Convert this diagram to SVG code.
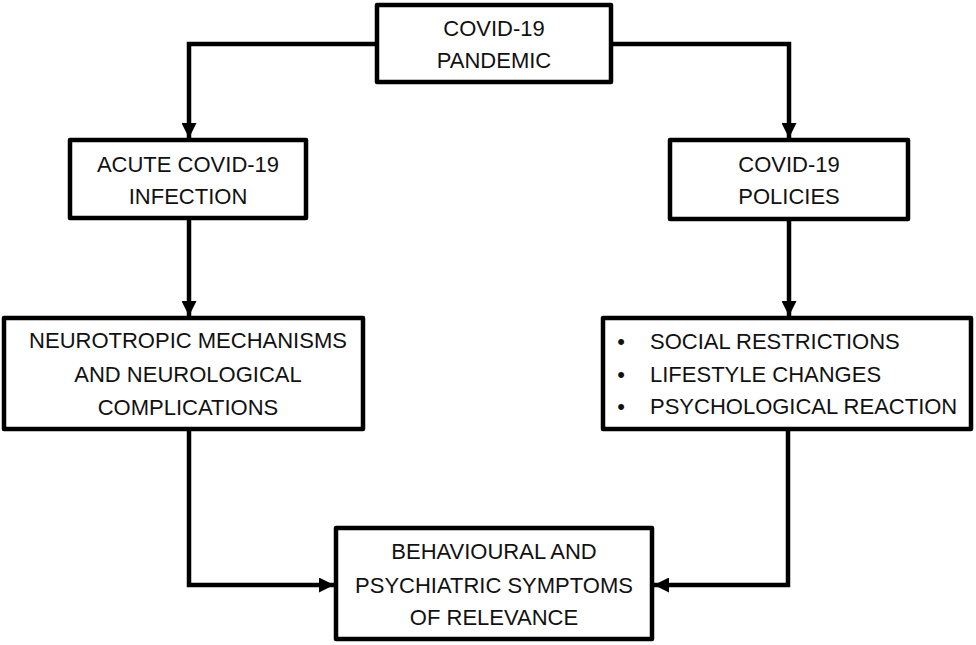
<svg xmlns="http://www.w3.org/2000/svg" width="976" height="645" viewBox="0 0 976 645">
<style>
.box{fill:#fff;stroke:#000;stroke-width:4.5;stroke-linejoin:round}
.lbl{font-family:"Liberation Sans",Arial,sans-serif;font-size:22px;fill:#111;text-anchor:middle}
.lft{text-anchor:start}
.con{fill:none;stroke:#000;stroke-width:4.5;stroke-linejoin:miter}
</style>
<defs>
<marker id="ah" markerUnits="userSpaceOnUse" markerWidth="15" markerHeight="15" viewBox="0 0 15 15" refX="15" refY="7.5" orient="auto">
<path d="M0,0 L15,7.5 L0,15 Z" fill="#000"/>
</marker>
</defs>
<g id="connectors">
<path class="con" d="M377,44 H189 V138" marker-end="url(#ah)"/>
<path class="con" d="M611,44 H789 V138" marker-end="url(#ah)"/>
<path class="con" d="M189,218 V316" marker-end="url(#ah)"/>
<path class="con" d="M789,219 V316" marker-end="url(#ah)"/>
<path class="con" d="M189,429 V585 H334" marker-end="url(#ah)"/>
<path class="con" d="M788,429 V585 H654" marker-end="url(#ah)"/>
</g>
<g id="pandemic">
<rect class="box" x="377" y="5" width="234" height="77"/>
<text class="lbl" x="494" y="36">COVID-19</text>
<text class="lbl" x="494" y="68">PANDEMIC</text>
</g>
<g id="infection">
<rect class="box" x="70" y="140" width="236" height="78"/>
<text class="lbl" x="188" y="172">ACUTE COVID-19</text>
<text class="lbl" x="188" y="204">INFECTION</text>
</g>
<g id="policies">
<rect class="box" x="670" y="140" width="238" height="79"/>
<text class="lbl" x="789" y="172">COVID-19</text>
<text class="lbl" x="789" y="204">POLICIES</text>
</g>
<g id="neurotropic">
<rect class="box" x="4" y="318" width="359" height="111"/>
<text class="lbl" x="188" y="348">NEUROTROPIC MECHANISMS</text>
<text class="lbl" x="188" y="382">AND NEUROLOGICAL</text>
<text class="lbl" x="188" y="415">COMPLICATIONS</text>
</g>
<g id="consequences">
<rect class="box" x="603" y="318" width="368" height="111"/>
<text class="lbl" x="621" y="349">•</text>
<text class="lbl" x="621" y="382">•</text>
<text class="lbl" x="621" y="414">•</text>
<text class="lbl lft" x="650" y="349">SOCIAL RESTRICTIONS</text>
<text class="lbl lft" x="650" y="382">LIFESTYLE CHANGES</text>
<text class="lbl lft" x="650" y="414">PSYCHOLOGICAL REACTION</text>
</g>
<g id="symptoms">
<rect class="box" x="336" y="528" width="316" height="111"/>
<text class="lbl" x="494" y="559">BEHAVIOURAL AND</text>
<text class="lbl" x="494" y="593">PSYCHIATRIC SYMPTOMS</text>
<text class="lbl" x="494" y="625">OF RELEVANCE</text>
</g>
</svg>
